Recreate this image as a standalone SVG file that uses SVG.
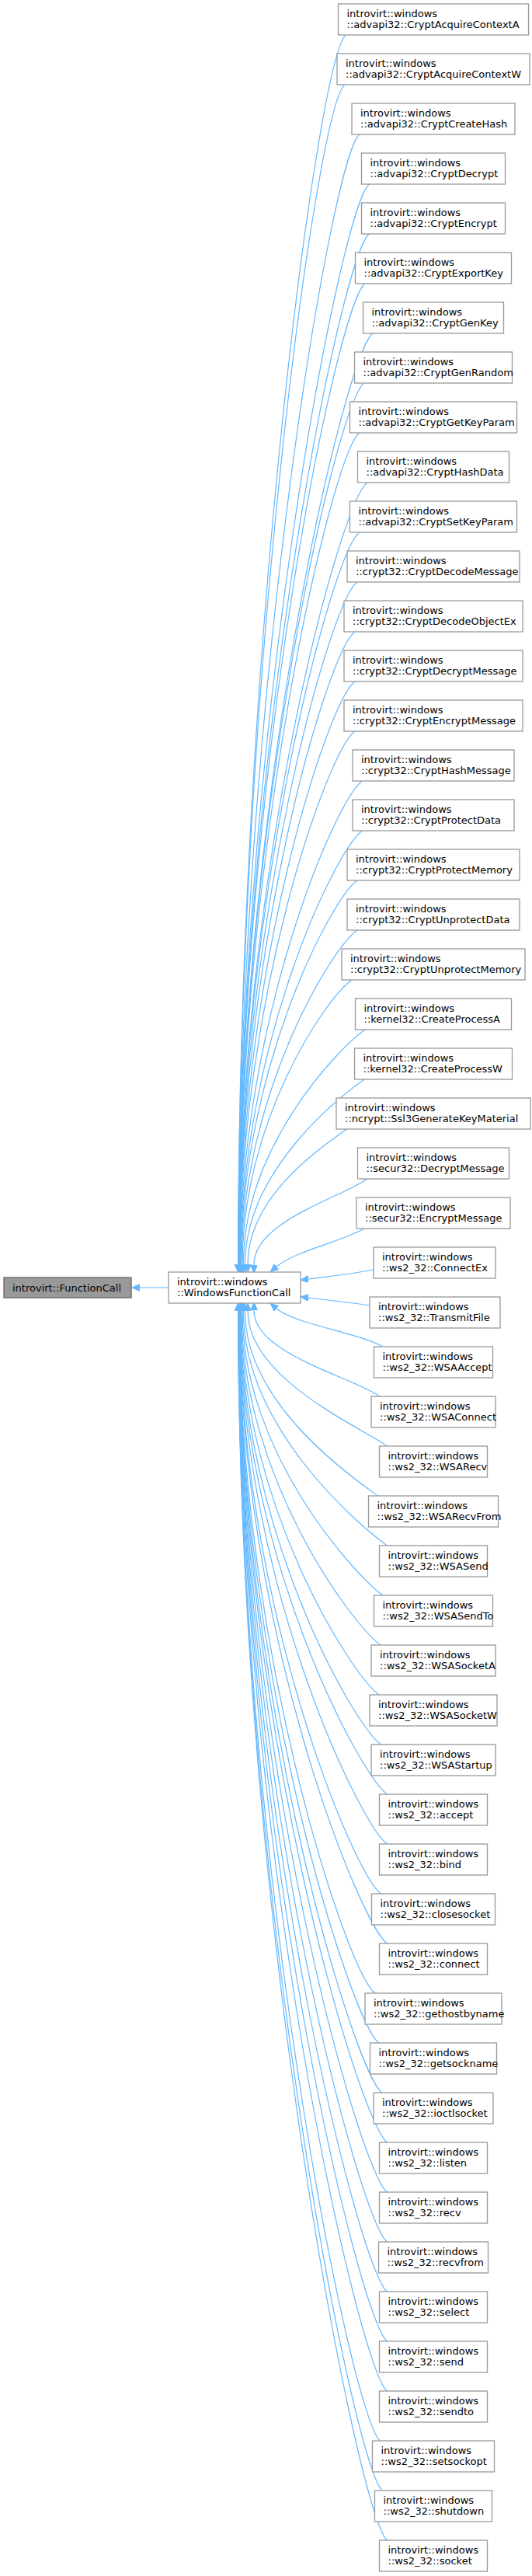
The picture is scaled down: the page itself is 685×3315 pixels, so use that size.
<svg xmlns="http://www.w3.org/2000/svg" width="685" height="3315" viewBox="0 0 685 3315">
<style>
text{font-family:"DejaVu Sans",sans-serif;font-size:13px;fill:#000}
.n rect{fill:#fff;stroke:#999;stroke-width:1.3}
.e path{fill:none;stroke:#63b8ff;stroke-width:1.2}
</style>
<defs><marker id="a" markerUnits="userSpaceOnUse" markerWidth="11" markerHeight="10" refX="0" refY="4.5" orient="auto"><path d="M0,0 L10,4.5 L0,9 z" fill="#63b8ff" stroke="#63b8ff"/></marker></defs>
<g class="e">
<path marker-end="url(#a)" d="M217,1657 H180"/>
<path marker-end="url(#a)" d="M445.5,45 C410.5,70 306.7,836 306.7,1627"/>
<path marker-end="url(#a)" d="M444,109 C409,134 306.8,868 306.8,1627"/>
<path marker-end="url(#a)" d="M463,173 C428,198 306.8,900 306.8,1627"/>
<path marker-end="url(#a)" d="M475.5,237 C440.5,262 306.9,932 306.9,1627"/>
<path marker-end="url(#a)" d="M475.5,301 C440.5,326 307,964 307,1627"/>
<path marker-end="url(#a)" d="M470,365 C435,390 307.1,996 307.1,1627"/>
<path marker-end="url(#a)" d="M480,429 C445,454 307.2,1028 307.2,1627"/>
<path marker-end="url(#a)" d="M469,493 C434,518 307.3,1060 307.3,1627"/>
<path marker-end="url(#a)" d="M463,557 C428,582 307.5,1092 307.5,1627"/>
<path marker-end="url(#a)" d="M473,621 C438,646 307.6,1124 307.6,1627"/>
<path marker-end="url(#a)" d="M463,685 C428,710 307.8,1156 307.8,1627"/>
<path marker-end="url(#a)" d="M460,749 C425,774 308,1188 308,1627"/>
<path marker-end="url(#a)" d="M457,813 C422,838 308.2,1220 308.2,1627"/>
<path marker-end="url(#a)" d="M457,877 C422,902 308.5,1252 308.5,1627"/>
<path marker-end="url(#a)" d="M457,941 C422,966 308.8,1284 308.8,1627"/>
<path marker-end="url(#a)" d="M466.5,1005 C431.5,1030 309.2,1316 309.2,1627"/>
<path marker-end="url(#a)" d="M466.5,1069 C431.5,1094 309.7,1348 309.7,1627"/>
<path marker-end="url(#a)" d="M460,1133 C425,1158 310.3,1380 310.3,1627"/>
<path marker-end="url(#a)" d="M460,1197 C425,1222 311,1412 311,1627"/>
<path marker-end="url(#a)" d="M453,1261 C418,1286 312,1444 312,1627"/>
<path marker-end="url(#a)" d="M470,1325 C435,1350 313.4,1476 313.4,1627"/>
<path marker-end="url(#a)" d="M469,1389 C434,1414 315.5,1508 315.5,1627"/>
<path marker-end="url(#a)" d="M446.5,1453 C411.5,1478 319,1540 319,1627"/>
<path marker-end="url(#a)" d="M473,1517 C438,1542 326,1572 327,1628"/>
<path marker-end="url(#a)" d="M469,1581 C434,1600 380,1610 356,1630"/>
<path marker-end="url(#a)" d="M481,1634 C450,1640 420,1643 397,1646"/>
<path marker-end="url(#a)" d="M476,1680 C450,1676 420,1673 397,1670"/>
<path marker-end="url(#a)" d="M493,1733 C458,1714 380,1704 356,1684"/>
<path marker-end="url(#a)" d="M489,1797 C454,1772 326,1742 327,1686"/>
<path marker-end="url(#a)" d="M498.5,1861 C463.5,1836 319,1774 319,1687"/>
<path marker-end="url(#a)" d="M486.5,1925 C451.5,1900 315.5,1806 315.5,1687"/>
<path marker-end="url(#a)" d="M498.5,1989 C463.5,1964 313.4,1838 313.4,1687"/>
<path marker-end="url(#a)" d="M493,2053 C458,2028 312,1870 312,1687"/>
<path marker-end="url(#a)" d="M490,2117 C455,2092 311,1902 311,1687"/>
<path marker-end="url(#a)" d="M488,2181 C453,2156 310.3,1934 310.3,1687"/>
<path marker-end="url(#a)" d="M490.5,2245 C455.5,2220 309.7,1966 309.7,1687"/>
<path marker-end="url(#a)" d="M498.5,2309 C463.5,2284 309.2,1998 309.2,1687"/>
<path marker-end="url(#a)" d="M498.5,2373 C463.5,2348 308.8,2030 308.8,1687"/>
<path marker-end="url(#a)" d="M490.5,2437 C455.5,2412 308.5,2062 308.5,1687"/>
<path marker-end="url(#a)" d="M498.5,2501 C463.5,2476 308.2,2094 308.2,1687"/>
<path marker-end="url(#a)" d="M483,2565 C448,2540 308,2126 308,1687"/>
<path marker-end="url(#a)" d="M488,2629 C453,2604 307.8,2158 307.8,1687"/>
<path marker-end="url(#a)" d="M492,2693 C457,2668 307.6,2190 307.6,1687"/>
<path marker-end="url(#a)" d="M498.5,2757 C463.5,2732 307.5,2222 307.5,1687"/>
<path marker-end="url(#a)" d="M498.5,2821 C463.5,2796 307.3,2254 307.3,1687"/>
<path marker-end="url(#a)" d="M498.5,2885 C463.5,2860 307.2,2286 307.2,1687"/>
<path marker-end="url(#a)" d="M498.5,2949 C463.5,2924 307.1,2318 307.1,1687"/>
<path marker-end="url(#a)" d="M498.5,3013 C463.5,2988 307,2350 307,1687"/>
<path marker-end="url(#a)" d="M498.5,3077 C463.5,3052 306.9,2382 306.9,1687"/>
<path marker-end="url(#a)" d="M489.5,3141 C454.5,3116 306.8,2414 306.8,1687"/>
<path marker-end="url(#a)" d="M492.5,3205 C457.5,3180 306.8,2446 306.8,1687"/>
<path marker-end="url(#a)" d="M498.5,3269 C463.5,3244 306.7,2478 306.7,1687"/>
</g>
<g id="base" class="n"><rect x="5" y="1644" width="164" height="26" style="fill:#999;stroke:#666"/><text x="16" y="1661.5">introvirt::FunctionCall</text></g>
<g id="wfc" class="n"><rect x="217" y="1637" width="170" height="40"/><text x="228" y="1653.5">introvirt::windows</text><text x="228" y="1668">::WindowsFunctionCall</text></g>
<g id="n1" class="n"><rect x="435.5" y="5" width="245" height="40"/><text x="446.5" y="21.5">introvirt::windows</text><text x="446.5" y="36">::advapi32::CryptAcquireContextA</text></g>
<g id="n2" class="n"><rect x="434" y="69" width="248" height="40"/><text x="445" y="85.5">introvirt::windows</text><text x="445" y="100">::advapi32::CryptAcquireContextW</text></g>
<g id="n3" class="n"><rect x="453" y="133" width="210" height="40"/><text x="464" y="149.5">introvirt::windows</text><text x="464" y="164">::advapi32::CryptCreateHash</text></g>
<g id="n4" class="n"><rect x="465.5" y="197" width="185" height="40"/><text x="476.5" y="213.5">introvirt::windows</text><text x="476.5" y="228">::advapi32::CryptDecrypt</text></g>
<g id="n5" class="n"><rect x="465.5" y="261" width="185" height="40"/><text x="476.5" y="277.5">introvirt::windows</text><text x="476.5" y="292">::advapi32::CryptEncrypt</text></g>
<g id="n6" class="n"><rect x="457.5" y="325" width="201" height="40"/><text x="468.5" y="341.5">introvirt::windows</text><text x="468.5" y="356">::advapi32::CryptExportKey</text></g>
<g id="n7" class="n"><rect x="467.5" y="389" width="181" height="40"/><text x="478.5" y="405.5">introvirt::windows</text><text x="478.5" y="420">::advapi32::CryptGenKey</text></g>
<g id="n8" class="n"><rect x="456.5" y="453" width="203" height="40"/><text x="467.5" y="469.5">introvirt::windows</text><text x="467.5" y="484">::advapi32::CryptGenRandom</text></g>
<g id="n9" class="n"><rect x="450.5" y="517" width="215" height="40"/><text x="461.5" y="533.5">introvirt::windows</text><text x="461.5" y="548">::advapi32::CryptGetKeyParam</text></g>
<g id="n10" class="n"><rect x="460.5" y="581" width="195" height="40"/><text x="471.5" y="597.5">introvirt::windows</text><text x="471.5" y="612">::advapi32::CryptHashData</text></g>
<g id="n11" class="n"><rect x="450.5" y="645" width="215" height="40"/><text x="461.5" y="661.5">introvirt::windows</text><text x="461.5" y="676">::advapi32::CryptSetKeyParam</text></g>
<g id="n12" class="n"><rect x="447" y="709" width="222" height="40"/><text x="458" y="725.5">introvirt::windows</text><text x="458" y="740">::crypt32::CryptDecodeMessage</text></g>
<g id="n13" class="n"><rect x="443" y="773" width="230" height="40"/><text x="454" y="789.5">introvirt::windows</text><text x="454" y="804">::crypt32::CryptDecodeObjectEx</text></g>
<g id="n14" class="n"><rect x="443" y="837" width="230" height="40"/><text x="454" y="853.5">introvirt::windows</text><text x="454" y="868">::crypt32::CryptDecryptMessage</text></g>
<g id="n15" class="n"><rect x="443" y="901" width="230" height="40"/><text x="454" y="917.5">introvirt::windows</text><text x="454" y="932">::crypt32::CryptEncryptMessage</text></g>
<g id="n16" class="n"><rect x="454" y="965" width="208" height="40"/><text x="465" y="981.5">introvirt::windows</text><text x="465" y="996">::crypt32::CryptHashMessage</text></g>
<g id="n17" class="n"><rect x="454" y="1029" width="208" height="40"/><text x="465" y="1045.5">introvirt::windows</text><text x="465" y="1060">::crypt32::CryptProtectData</text></g>
<g id="n18" class="n"><rect x="447" y="1093" width="222" height="40"/><text x="458" y="1109.5">introvirt::windows</text><text x="458" y="1124">::crypt32::CryptProtectMemory</text></g>
<g id="n19" class="n"><rect x="447" y="1157" width="222" height="40"/><text x="458" y="1173.5">introvirt::windows</text><text x="458" y="1188">::crypt32::CryptUnprotectData</text></g>
<g id="n20" class="n"><rect x="440" y="1221" width="236" height="40"/><text x="451" y="1237.5">introvirt::windows</text><text x="451" y="1252">::crypt32::CryptUnprotectMemory</text></g>
<g id="n21" class="n"><rect x="457.5" y="1285" width="201" height="40"/><text x="468.5" y="1301.5">introvirt::windows</text><text x="468.5" y="1316">::kernel32::CreateProcessA</text></g>
<g id="n22" class="n"><rect x="456.5" y="1349" width="203" height="40"/><text x="467.5" y="1365.5">introvirt::windows</text><text x="467.5" y="1380">::kernel32::CreateProcessW</text></g>
<g id="n23" class="n"><rect x="433" y="1413" width="250" height="40"/><text x="444" y="1429.5">introvirt::windows</text><text x="444" y="1444">::ncrypt::Ssl3GenerateKeyMaterial</text></g>
<g id="n24" class="n"><rect x="460.5" y="1477" width="195" height="40"/><text x="471.5" y="1493.5">introvirt::windows</text><text x="471.5" y="1508">::secur32::DecryptMessage</text></g>
<g id="n25" class="n"><rect x="459" y="1541" width="198" height="40"/><text x="470" y="1557.5">introvirt::windows</text><text x="470" y="1572">::secur32::EncryptMessage</text></g>
<g id="n26" class="n"><rect x="481" y="1605" width="157" height="40"/><text x="492" y="1621.5">introvirt::windows</text><text x="492" y="1636">::ws2_32::ConnectEx</text></g>
<g id="n27" class="n"><rect x="476" y="1669" width="168" height="40"/><text x="487" y="1685.5">introvirt::windows</text><text x="487" y="1700">::ws2_32::TransmitFile</text></g>
<g id="n28" class="n"><rect x="481.5" y="1733" width="153" height="40"/><text x="492.5" y="1749.5">introvirt::windows</text><text x="492.5" y="1764">::ws2_32::WSAAccept</text></g>
<g id="n29" class="n"><rect x="478" y="1797" width="160" height="40"/><text x="489" y="1813.5">introvirt::windows</text><text x="489" y="1828">::ws2_32::WSAConnect</text></g>
<g id="n30" class="n"><rect x="488.5" y="1861" width="139" height="40"/><text x="499.5" y="1877.5">introvirt::windows</text><text x="499.5" y="1892">::ws2_32::WSARecv</text></g>
<g id="n31" class="n"><rect x="474.5" y="1925" width="167" height="40"/><text x="485.5" y="1941.5">introvirt::windows</text><text x="485.5" y="1956">::ws2_32::WSARecvFrom</text></g>
<g id="n32" class="n"><rect x="488.5" y="1989" width="139" height="40"/><text x="499.5" y="2005.5">introvirt::windows</text><text x="499.5" y="2020">::ws2_32::WSASend</text></g>
<g id="n33" class="n"><rect x="481.5" y="2053" width="153" height="40"/><text x="492.5" y="2069.5">introvirt::windows</text><text x="492.5" y="2084">::ws2_32::WSASendTo</text></g>
<g id="n34" class="n"><rect x="478" y="2117" width="160" height="40"/><text x="489" y="2133.5">introvirt::windows</text><text x="489" y="2148">::ws2_32::WSASocketA</text></g>
<g id="n35" class="n"><rect x="476" y="2181" width="164" height="40"/><text x="487" y="2197.5">introvirt::windows</text><text x="487" y="2212">::ws2_32::WSASocketW</text></g>
<g id="n36" class="n"><rect x="478" y="2245" width="160" height="40"/><text x="489" y="2261.5">introvirt::windows</text><text x="489" y="2276">::ws2_32::WSAStartup</text></g>
<g id="n37" class="n"><rect x="488.5" y="2309" width="139" height="40"/><text x="499.5" y="2325.5">introvirt::windows</text><text x="499.5" y="2340">::ws2_32::accept</text></g>
<g id="n38" class="n"><rect x="488.5" y="2373" width="139" height="40"/><text x="499.5" y="2389.5">introvirt::windows</text><text x="499.5" y="2404">::ws2_32::bind</text></g>
<g id="n39" class="n"><rect x="478.5" y="2437" width="159" height="40"/><text x="489.5" y="2453.5">introvirt::windows</text><text x="489.5" y="2468">::ws2_32::closesocket</text></g>
<g id="n40" class="n"><rect x="488.5" y="2501" width="139" height="40"/><text x="499.5" y="2517.5">introvirt::windows</text><text x="499.5" y="2532">::ws2_32::connect</text></g>
<g id="n41" class="n"><rect x="470" y="2565" width="176" height="40"/><text x="481" y="2581.5">introvirt::windows</text><text x="481" y="2596">::ws2_32::gethostbyname</text></g>
<g id="n42" class="n"><rect x="476.5" y="2629" width="163" height="40"/><text x="487.5" y="2645.5">introvirt::windows</text><text x="487.5" y="2660">::ws2_32::getsockname</text></g>
<g id="n43" class="n"><rect x="481" y="2693" width="154" height="40"/><text x="492" y="2709.5">introvirt::windows</text><text x="492" y="2724">::ws2_32::ioctlsocket</text></g>
<g id="n44" class="n"><rect x="488.5" y="2757" width="139" height="40"/><text x="499.5" y="2773.5">introvirt::windows</text><text x="499.5" y="2788">::ws2_32::listen</text></g>
<g id="n45" class="n"><rect x="488.5" y="2821" width="139" height="40"/><text x="499.5" y="2837.5">introvirt::windows</text><text x="499.5" y="2852">::ws2_32::recv</text></g>
<g id="n46" class="n"><rect x="487.5" y="2885" width="141" height="40"/><text x="498.5" y="2901.5">introvirt::windows</text><text x="498.5" y="2916">::ws2_32::recvfrom</text></g>
<g id="n47" class="n"><rect x="488.5" y="2949" width="139" height="40"/><text x="499.5" y="2965.5">introvirt::windows</text><text x="499.5" y="2980">::ws2_32::select</text></g>
<g id="n48" class="n"><rect x="488.5" y="3013" width="139" height="40"/><text x="499.5" y="3029.5">introvirt::windows</text><text x="499.5" y="3044">::ws2_32::send</text></g>
<g id="n49" class="n"><rect x="488.5" y="3077" width="139" height="40"/><text x="499.5" y="3093.5">introvirt::windows</text><text x="499.5" y="3108">::ws2_32::sendto</text></g>
<g id="n50" class="n"><rect x="479.5" y="3141" width="157" height="40"/><text x="490.5" y="3157.5">introvirt::windows</text><text x="490.5" y="3172">::ws2_32::setsockopt</text></g>
<g id="n51" class="n"><rect x="482.5" y="3205" width="151" height="40"/><text x="493.5" y="3221.5">introvirt::windows</text><text x="493.5" y="3236">::ws2_32::shutdown</text></g>
<g id="n52" class="n"><rect x="488.5" y="3269" width="139" height="40"/><text x="499.5" y="3285.5">introvirt::windows</text><text x="499.5" y="3300">::ws2_32::socket</text></g>
</svg>
